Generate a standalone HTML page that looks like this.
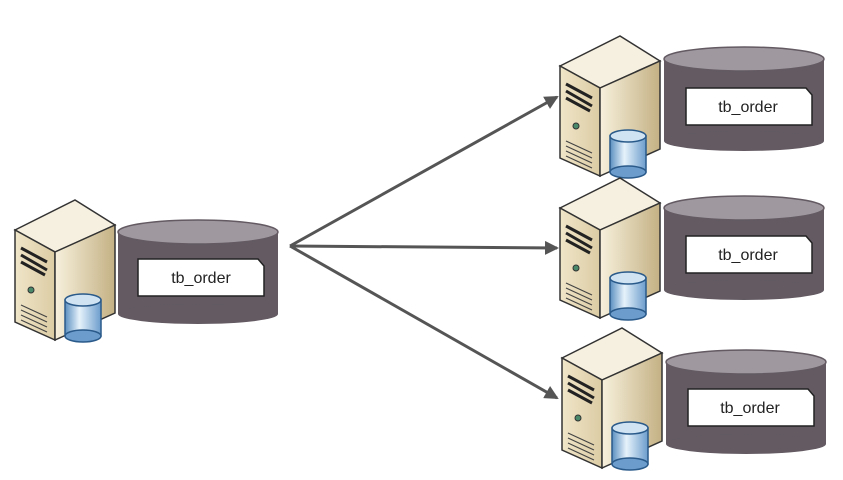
<!DOCTYPE html>
<html><head><meta charset="utf-8"><style>
html,body{margin:0;padding:0;background:#fff;}
svg{display:block;}
text{font-family:"Liberation Sans",sans-serif;font-size:16px;fill:#222;}
</style></head><body>
<svg width="843" height="480" viewBox="0 0 843 480" xmlns="http://www.w3.org/2000/svg">
<defs>
<linearGradient id="side" x1="0" y1="0" x2="1" y2="0">
<stop offset="0" stop-color="#f7f0dc"/><stop offset="1" stop-color="#c4b184"/></linearGradient>
<linearGradient id="front" x1="0" y1="0" x2="1" y2="0">
<stop offset="0" stop-color="#efe5c8"/><stop offset="1" stop-color="#dccca4"/></linearGradient>
<linearGradient id="blue" x1="0" y1="0" x2="1" y2="0">
<stop offset="0" stop-color="#5a8fc0"/><stop offset="0.4" stop-color="#e6f2fb"/><stop offset="1" stop-color="#6c9ccc"/></linearGradient>
<g id="srv">
<polygon points="0,30 60,0 100,25 40,52" fill="#f6f0e0" stroke="#333" stroke-width="1.5"/>
<polygon points="0,30 40,52 40,140 0,122" fill="url(#front)" stroke="#333" stroke-width="1.5"/>
<polygon points="40,52 100,25 100,113 40,140" fill="url(#side)" stroke="#333" stroke-width="1.5"/>
<path d="M6,48 L32,62 M6,55 L32,70 M6,62 L30,75" stroke="#222" stroke-width="3"/>
<circle cx="16" cy="90" r="3" fill="#4a8a6a" stroke="#333"/>
<path d="M6,105 L32,117 M6,110 L32,122 M6,115 L32,127 M6,120 L32,132" stroke="#444" stroke-width="1.2"/>
<rect x="50" y="100" width="36" height="36" fill="url(#blue)" stroke="#2a5a8a" stroke-width="1.5"/>
<ellipse cx="68" cy="136" rx="18" ry="6" fill="#6c9ccc" stroke="#2a5a8a" stroke-width="1.5"/>
<ellipse cx="68" cy="100" rx="18" ry="6" fill="#cfe3f3" stroke="#2a5a8a" stroke-width="1.5"/>
</g>
<g id="cyl">
<rect x="0" y="12" width="160" height="82" fill="#635a62"/>
<ellipse cx="80" cy="94" rx="80" ry="10" fill="#635a62"/>
<ellipse cx="80" cy="12" rx="80" ry="12" fill="#9f989f" stroke="#635a62" stroke-width="1.5"/>
</g>
<g id="lbl">
<polygon points="0,0 120,0 126,7 126,37 0,37" fill="#fff" stroke="#222" stroke-width="1.5"/>
</g>
<marker id="ah" markerWidth="14" markerHeight="14" refX="12" refY="7" orient="auto" markerUnits="userSpaceOnUse">
<path d="M0,0 L14,7 L0,14 Z" fill="#555"/></marker>
</defs>

<g stroke="#555" stroke-width="3" fill="none">
<line x1="290" y1="246" x2="557" y2="97" marker-end="url(#ah)"/>
<line x1="290" y1="246" x2="557" y2="248" marker-end="url(#ah)"/>
<line x1="290" y1="246" x2="557" y2="398" marker-end="url(#ah)"/>
</g>

<use href="#cyl" x="118" y="220"/>
<use href="#srv" x="15" y="200"/>
<use href="#lbl" x="138" y="259"/>
<text x="201" y="283" text-anchor="middle">tb_order</text>

<use href="#cyl" x="664" y="47"/>
<use href="#srv" x="560" y="36"/>
<use href="#lbl" x="686" y="88"/>
<text x="748" y="112" text-anchor="middle">tb_order</text>

<use href="#cyl" x="664" y="196"/>
<use href="#srv" x="560" y="178"/>
<use href="#lbl" x="686" y="236"/>
<text x="748" y="260" text-anchor="middle">tb_order</text>

<use href="#cyl" x="666" y="350"/>
<use href="#srv" x="562" y="328"/>
<use href="#lbl" x="688" y="389"/>
<text x="750" y="413" text-anchor="middle">tb_order</text>
</svg>
</body></html>
